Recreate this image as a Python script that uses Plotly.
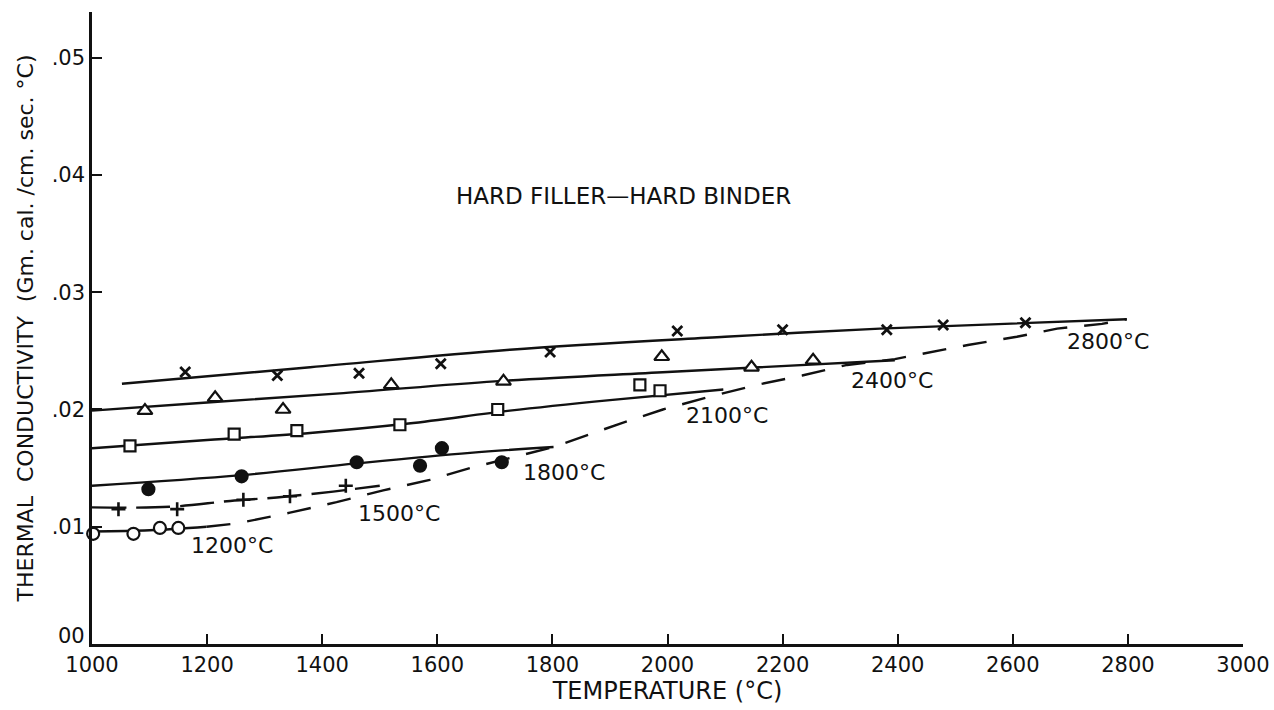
import plotly.graph_objects as go

# ---- measured points (temperature °C, conductivity) ----
t_2800 = [1162, 1322, 1464, 1606, 1796, 2017, 2200, 2381, 2479, 2622]
k_2800 = [0.0232, 0.0229, 0.0231, 0.0239, 0.0249, 0.0267, 0.0268, 0.0268, 0.0272, 0.0274]

t_2400 = [1092, 1214, 1332, 1520, 1715, 1990, 2146, 2253]
k_2400 = [0.0199, 0.0210, 0.0200, 0.0221, 0.0224, 0.0245, 0.0236, 0.0242]

t_2100 = [1066, 1247, 1356, 1535, 1705, 1952, 1987]
k_2100 = [0.0169, 0.0179, 0.0182, 0.0187, 0.0200, 0.0221, 0.0216]

t_1800 = [1098, 1260, 1460, 1570, 1608, 1712]
k_1800 = [0.0132, 0.0143, 0.0155, 0.0152, 0.0167, 0.0155]

t_1500 = [1046, 1148, 1263, 1344, 1441]
k_1500 = [0.0115, 0.0115, 0.0123, 0.0126, 0.0135]

t_1200 = [1002, 1072, 1118, 1150]
k_1200 = [0.0094, 0.0094, 0.0099, 0.0099]

# ---- fitted curves ----
ct_2800 = [1052, 1379, 1726, 2100, 2369, 2798]
ck_2800 = [0.0222, 0.0236, 0.0251, 0.0262, 0.0269, 0.0277]
ct_2400 = [1000, 1200, 1437, 1700, 2000, 2395]
ck_2400 = [0.0199, 0.0206, 0.0214, 0.0224, 0.0232, 0.0242]
ct_2100 = [1000, 1200, 1379, 1550, 1726, 1900, 2097]
ck_2100 = [0.0167, 0.0174, 0.0180, 0.0188, 0.0199, 0.0208, 0.0217]
ct_1800 = [1000, 1260, 1460, 1657, 1802]
ck_1800 = [0.0135, 0.0144, 0.0154, 0.0163, 0.0168]
ct_1500 = [1000, 1135, 1240, 1321, 1419, 1500]
ck_1500 = [0.01165, 0.0117, 0.0122, 0.0125, 0.0130, 0.0135]
ct_1200 = [1000, 1100, 1199]
ck_1200 = [0.0096, 0.0097, 0.0100]

# heat-treatment locus (dashed)
lt = [1199, 1254, 1344, 1425, 1506, 1587, 1657, 1802, 1918, 1992, 2074, 2155,
      2234, 2312, 2395, 2522, 2607, 2677, 2755, 2798]
lk = [0.0100, 0.0103, 0.0112, 0.0121, 0.0131, 0.0140, 0.0150, 0.0168, 0.0188,
      0.0200, 0.0211, 0.0221, 0.0229, 0.0238, 0.0243, 0.0255, 0.0262, 0.0269,
      0.0273, 0.0277]

curve_labels = ["1200°C", "1500°C", "1800°C", "2100°C", "2400°C", "2800°C"]
label_t = [1244, 1533, 1820, 2104, 2390, 2766]
label_k = [0.0084, 0.0111, 0.0146, 0.0195, 0.0225, 0.0258]

x_ticks = [1000, 1200, 1400, 1600, 1800, 2000, 2200, 2400, 2600, 2800, 3000]
y_ticks = [0.01, 0.02, 0.03, 0.04, 0.05]
y_ticktext = [".01", ".02", ".03", ".04", ".05"]
y_zero_text = "00"

FONT = "DejaVu Sans"
INK = "#111111"

fig = go.Figure()

def line(xs, ys, dash="solid", shape="spline"):
    fig.add_trace(go.Scatter(x=xs, y=ys, mode="lines",
                             line=dict(color=INK, width=2.4, dash=dash, shape=shape),
                             showlegend=False, hoverinfo="skip", cliponaxis=False))

line(ct_2800, ck_2800)
line(ct_2400, ck_2400)
line(ct_2100, ck_2100)
line(ct_1800, ck_1800)
line(ct_1500, ck_1500, dash="34px,10px")
line(ct_1200, ck_1200)
line(lt, lk, dash="24px,17px", shape="linear")

def pts(xs, ys, symbol, size, fill, lw=2.2):
    fig.add_trace(go.Scatter(
        x=xs, y=ys, mode="markers", showlegend=False, cliponaxis=False,
        marker=dict(symbol=symbol, size=size, color=fill,
                    line=dict(color=INK, width=lw))))

pts(t_2800, k_2800, "x-thin", 10, INK, lw=2.8)
pts(t_2400, k_2400, "triangle-up", 13, "white")
pts(t_2100, k_2100, "square", 11, "white")
pts(t_1800, k_1800, "circle", 12, INK)
pts(t_1500, k_1500, "cross-thin", 10, INK, lw=2.6)
pts(t_1200, k_1200, "circle", 12, "white")

for txt, xv, yv in zip(curve_labels, label_t, label_k):
    fig.add_annotation(x=xv, y=yv, text=txt, showarrow=False,
                       font=dict(family=FONT, size=22, color=INK))

fig.add_annotation(x=1923, y=0.0382, text="HARD FILLER—HARD BINDER", showarrow=False,
                   font=dict(family=FONT, size=23, color=INK))

# zero label of the y axis (sits a little above the corner in the original)
fig.add_annotation(x=1000, y=0, text=y_zero_text, showarrow=False,
                   xanchor="right", xshift=-5, yshift=8,
                   font=dict(family=FONT, size=21, color=INK))

fig.update_layout(
    width=1274, height=710,
    margin=dict(l=92, r=31, t=12, b=66, autoexpand=False),
    paper_bgcolor="white", plot_bgcolor="white",
    font=dict(family=FONT, color=INK),
    xaxis=dict(range=[1000, 3000], tickvals=x_ticks,
               ticktext=[str(v) for v in x_ticks], automargin=False,
               showgrid=False, zeroline=False, showline=True,
               linecolor=INK, linewidth=2.5, ticks="inside", ticklen=10,
               tickwidth=2, tickcolor=INK, tickfont=dict(size=21, family=FONT),
               title=dict(text="TEMPERATURE (°C)", font=dict(size=24, family=FONT),
                          standoff=4)),
    yaxis=dict(range=[0, 0.0539], tickvals=y_ticks, ticktext=y_ticktext,
               automargin=False,
               showgrid=False, zeroline=False, showline=True,
               linecolor=INK, linewidth=2.5, ticks="inside", ticklen=10,
               tickwidth=2, tickcolor=INK, tickfont=dict(size=21, family=FONT),
               title=dict(text="THERMAL  CONDUCTIVITY  (Gm. cal. /cm. sec. °C)",
                          font=dict(size=22, family=FONT), standoff=12)),
)

fig.write_html("out.html")
